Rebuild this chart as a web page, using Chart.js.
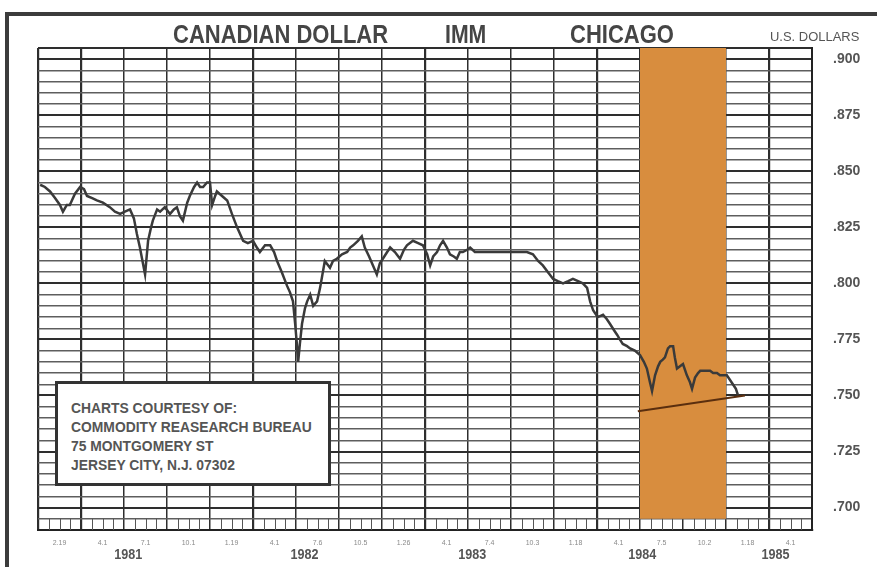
<!DOCTYPE html>
<html><head><meta charset="utf-8">
<script src="https://cdn.jsdelivr.net/npm/chart.js@4"></script>
<style>
html,body{margin:0;padding:0;background:#fff;}
#wrap{position:relative;width:877px;height:567px;overflow:hidden;background:#fff;}
#frameTop{position:absolute;left:5px;top:12px;width:872px;height:4px;background:#3c3c3c;}
#frameLeft{position:absolute;left:5px;top:12px;width:4px;height:555px;background:#3c3c3c;}
canvas{position:absolute;left:0;top:0;}
.t{position:absolute;font-family:"Liberation Sans",Arial,sans-serif;font-weight:bold;color:#454545;white-space:nowrap;line-height:1;transform-origin:left top;}
#box{position:absolute;left:55px;top:381px;width:270px;height:99px;border:3px solid #333;background:#fff;}
#box div{position:absolute;left:13px;font-family:"Liberation Sans",Arial,sans-serif;font-weight:bold;font-size:14px;color:#555;white-space:nowrap;transform:scaleX(0.99);transform-origin:left center;}
</style></head>
<body>
<div id="wrap">
  <canvas id="c" width="877" height="567"></canvas>
  <div id="frameTop"></div>
  <div id="frameLeft"></div>
  <div class="t" style="left:173px;top:22px;font-size:25px;transform:scaleX(0.88);">CANADIAN DOLLAR</div>
  <div class="t" style="left:445px;top:22px;font-size:25px;transform:scaleX(0.85);">IMM</div>
  <div class="t" style="left:570px;top:22px;font-size:25px;transform:scaleX(0.88);">CHICAGO</div>
  <div class="t" style="left:770px;top:31px;font-size:12px;font-weight:normal;color:#555;transform:scaleX(1.08);">U.S. DOLLARS</div>
  <div id="box">
    <div style="top:16px;">CHARTS COURTESY OF:</div>
    <div style="top:35px;">COMMODITY REASEARCH BUREAU</div>
    <div style="top:54px;">75 MONTGOMERY ST</div>
    <div style="top:73px;">JERSEY CITY, N.J. 07302</div>
  </div>
</div>
<script>
// ---- data ----
const priceLevels = [0.900, 0.875, 0.850, 0.825, 0.800, 0.775, 0.750, 0.725, 0.700];
const priceLabels = ['.900', '.875', '.850', '.825', '.800', '.775', '.750', '.725', '.700'];
const quarterEdges = [0,1,2,3,4,5,6,7,8,9,10,11,12,13,14,15,16,17,18];
const dateLabels = ['2.19','4.1','7.1','10.1','1.19','4.1','7.6','10.5','1.26','4.1','7.4','10.3','1.18','4.1','7.5','10.2','1.18','4.1'];
const yearLabels = ['1981', '1982', '1983', '1984', '1985'];
const yearPos = [2.1, 6.2, 10.1, 14.05, 17.15];
const bandQ = [14, 16];

const seriesQ = [0.05,0.16,0.28,0.40,0.51,0.58,0.67,0.74,0.86,0.98,1.07,1.14,1.26,1.37,1.51,1.67,1.79,1.91,2.02,2.14,2.23,2.30,2.37,2.42,2.49,2.56,2.63,2.67,2.77,2.84,2.95,3.07,3.16,3.23,3.30,3.37,3.47,3.53,3.63,3.70,3.77,3.84,3.93,4.00,4.05,4.12,4.16,4.28,4.40,4.51,4.63,4.70,4.77,4.88,5.00,5.09,5.16,5.28,5.40,5.49,5.56,5.67,5.79,5.86,5.93,5.98,6.02,6.05,6.09,6.14,6.21,6.26,6.33,6.40,6.49,6.56,6.67,6.79,6.86,6.95,7.07,7.19,7.26,7.33,7.44,7.53,7.60,7.70,7.79,7.88,7.95,8.02,8.12,8.19,8.30,8.42,8.51,8.58,8.65,8.72,8.84,8.95,9.05,9.12,9.19,9.28,9.35,9.42,9.51,9.58,9.67,9.74,9.81,9.88,9.98,10.05,10.16,10.28,10.40,10.51,10.63,10.74,10.86,10.98,11.09,11.21,11.37,11.51,11.63,11.74,11.86,11.98,12.09,12.21,12.33,12.44,12.56,12.67,12.77,12.84,12.91,12.98,13.02,13.14,13.23,13.30,13.40,13.47,13.53,13.60,13.70,13.77,13.88,14.00,14.09,14.16,14.23,14.28,14.35,14.42,14.47,14.53,14.58,14.65,14.70,14.77,14.81,14.86,14.93,15.00,15.09,15.16,15.21,15.28,15.35,15.40,15.49,15.56,15.63,15.70,15.79,15.86,15.95,16.02,16.09,16.16,16.23,16.28];
const seriesV = [0.844,0.843,0.841,0.838,0.835,0.832,0.835,0.835,0.840,0.843,0.842,0.839,0.838,0.837,0.836,0.834,0.832,0.831,0.832,0.833,0.829,0.822,0.816,0.811,0.804,0.819,0.825,0.828,0.833,0.832,0.834,0.831,0.833,0.834,0.830,0.828,0.836,0.839,0.843,0.845,0.843,0.843,0.845,0.845,0.835,0.839,0.841,0.839,0.837,0.831,0.825,0.822,0.819,0.818,0.819,0.816,0.814,0.817,0.817,0.814,0.810,0.805,0.799,0.796,0.792,0.782,0.773,0.765,0.773,0.782,0.789,0.792,0.795,0.790,0.792,0.798,0.810,0.807,0.810,0.811,0.813,0.814,0.816,0.817,0.819,0.821,0.816,0.812,0.808,0.804,0.809,0.811,0.814,0.816,0.814,0.811,0.815,0.817,0.818,0.819,0.818,0.817,0.813,0.808,0.812,0.814,0.817,0.819,0.816,0.813,0.812,0.811,0.814,0.814,0.815,0.816,0.814,0.814,0.814,0.814,0.814,0.814,0.814,0.814,0.814,0.814,0.814,0.813,0.810,0.808,0.805,0.802,0.801,0.800,0.801,0.802,0.801,0.800,0.798,0.792,0.788,0.786,0.785,0.786,0.784,0.782,0.779,0.777,0.775,0.773,0.772,0.771,0.770,0.768,0.765,0.762,0.756,0.752,0.759,0.763,0.765,0.766,0.767,0.771,0.772,0.772,0.767,0.762,0.763,0.764,0.759,0.756,0.753,0.758,0.760,0.761,0.761,0.761,0.761,0.760,0.760,0.759,0.759,0.759,0.757,0.755,0.753,0.750];
const trendQ = [13.95, 16.44];
const trendV = [0.743, 0.750];

const Y_MIN = 0.690, Y_MAX = 0.905;
const FONT = 'Liberation Sans, Arial, sans-serif';

function isLevel(v){ return priceLevels.some(p => Math.abs(p - v) < 1e-6); }
function labelFor(v){ const i = priceLevels.findIndex(p => Math.abs(p - v) < 1e-6); return i >= 0 ? priceLabels[i] : ''; }

const extras = {
  id: 'extras',
  afterDraw(chart){
    const xs = chart.scales.x, ys = chart.scales.y, ctx = chart.ctx;
    const y0 = ys.getPixelForValue(Y_MIN), y1 = ys.getPixelForValue(0.695);
    ctx.save();
    ctx.strokeStyle = '#555'; ctx.lineWidth = 1;
    for (let q = 0; q < quarterEdges.length - 1; q++) {
      for (let k = 1; k <= 3; k++) {
        const px = Math.round(xs.getPixelForValue(quarterEdges[q] + k / 4)) + 0.5;
        ctx.beginPath(); ctx.moveTo(px, y0); ctx.lineTo(px, y1); ctx.stroke();
      }
    }
    ctx.fillStyle = '#555';
    ctx.font = 'bold 14px ' + FONT;
    ctx.textAlign = 'center'; ctx.textBaseline = 'middle';
    yearLabels.forEach((t, i) => {
      const px = xs.getPixelForValue(yearPos[i]);
      ctx.save(); ctx.translate(px, chart.chartArea.bottom + 25); ctx.scale(0.9, 1.05);
      ctx.fillText(t, 0, 0); ctx.restore();
    });
    ctx.restore();
  }
};

new Chart(document.getElementById('c'), {
  type: 'line',
  data: {
    datasets: [
      { label: 'band', data: bandQ.map(q => ({x: q, y: Y_MAX})), fill: {value: 0.695},
        backgroundColor: '#D88D3E', borderWidth: 0, pointRadius: 0, order: 3 },
      { label: 'Canadian dollar', data: seriesQ.map((q, i) => ({x: q, y: seriesV[i]})),
        borderColor: '#3a3a3a', borderWidth: 2.5, pointRadius: 0, tension: 0, fill: false, order: 2 },
      { label: 'trend', data: trendQ.map((q, i) => ({x: q, y: trendV[i]})),
        borderColor: '#5a2e0e', borderWidth: 2, pointRadius: 0, fill: false, order: 1 }
    ]
  },
  options: {
    responsive: false, animation: false, devicePixelRatio: 1,
    layout: { padding: { left: 38, top: 48, right: 0, bottom: 0 } },
    plugins: { legend: { display: false }, tooltip: { enabled: false }, title: { display: false } },
    scales: {
      x: {
        type: 'linear', min: 0, max: 18, position: 'bottom', z: 1,
        afterBuildTicks: s => { s.ticks = dateLabels.map((d, i) => ({value: quarterEdges[i] + 0.5})); },
        ticks: { autoSkip: false, maxRotation: 0, padding: 9, color: '#8a8a8a',
          font: { size: 7, family: FONT },
          callback: (v, i) => dateLabels[i] },
        grid: { offset: true, drawTicks: false,
          color: '#2e2e2e',
          lineWidth: c => ([0, 1, 5, 9, 13, 17, 18].includes(c.index)) ? 2.2 : 1.5 },
        border: { display: true, color: '#222', width: 2 },
        afterFit: s => { s.height = 37; }
      },
      y: {
        type: 'linear', position: 'right', min: Y_MIN, max: Y_MAX, z: 1,
        ticks: { stepSize: 0.005, autoSkip: false, padding: 21, color: '#555',
          font: { size: 14, weight: 'bold', family: FONT },
          callback: v => labelFor(v) },
        grid: { drawTicks: false,
          color: c => (c.tick && (isLevel(c.tick.value) || Math.abs(c.tick.value - Y_MAX) < 1e-6)) ? '#2e2e2e' : '#5e5e5e',
          lineWidth: c => (c.tick && (isLevel(c.tick.value) || Math.abs(c.tick.value - Y_MAX) < 1e-6)) ? 2 : 1.4 },
        border: { display: true, color: '#222', width: 2 },
        afterFit: s => { s.width = 65; }
      }
    }
  },
  plugins: [extras]
});
</script>
</body></html>
